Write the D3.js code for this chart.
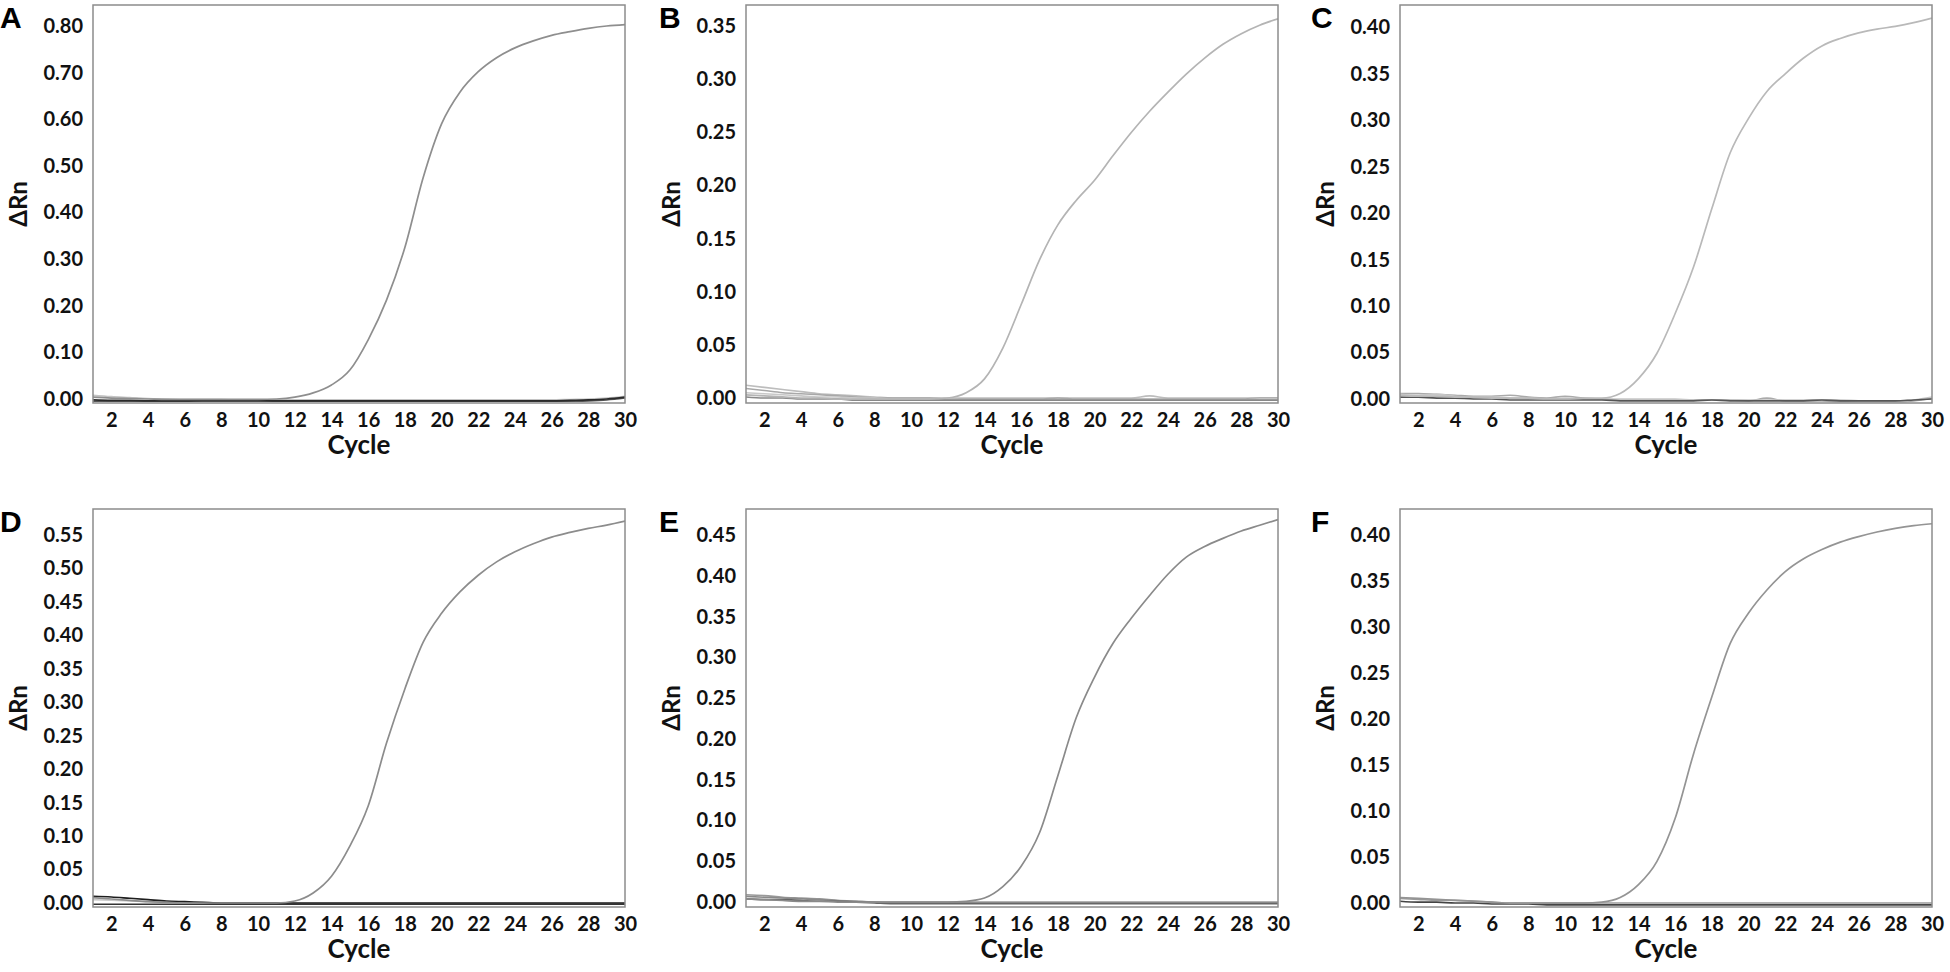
<!DOCTYPE html>
<html>
<head>
<meta charset="utf-8">
<script src="https://cdn.jsdelivr.net/npm/d3@7/dist/d3.min.js"></script>
<style>
  html, body { margin: 0; padding: 0; background: #fff; }
  svg { display: block; }
  .tick text { font-family: Lato, "Open Sans", sans-serif; font-weight: 700; font-size: 20px; fill: #111; }
  .lbl { font-family: Lato, "Open Sans", sans-serif; font-weight: 700; fill: #111; }
  .letter { font-family: "Liberation Sans", Arial, sans-serif; font-weight: 700; font-size: 30px; fill: #000; }
</style>
</head>
<body>
<svg id="chart" width="1950" height="972"></svg>
<script>
// ---------------- DATA ----------------
const cycles = [1,2,3,4,5,6,7,8,9,10,11,12,13,14,15,16,17,18,19,20,21,22,23,24,25,26,27,28,29,30];
const xTickLabels = [2,4,6,8,10,12,14,16,18,20,22,24,26,28,30];
const panelLetters = ["A","B","C","D","E","F"];

const yTicksA = [0.00,0.10,0.20,0.30,0.40,0.50,0.60,0.70,0.80];
const yTicksB = [0.00,0.05,0.10,0.15,0.20,0.25,0.30,0.35];
const yTicksC = [0.00,0.05,0.10,0.15,0.20,0.25,0.30,0.35,0.40];
const yTicksD = [0.00,0.05,0.10,0.15,0.20,0.25,0.30,0.35,0.40,0.45,0.50,0.55];
const yTicksE = [0.00,0.05,0.10,0.15,0.20,0.25,0.30,0.35,0.40,0.45];
const yTicksF = [0.00,0.05,0.10,0.15,0.20,0.25,0.30,0.35,0.40];

const yTopValues    = [0.845, 0.370, 0.424, 0.589, 0.482, 0.428];
const yBottomValues = [-0.0086, -0.0047, -0.0043, -0.0060, -0.0060, -0.0043];

// amplification curves (ΔRn per cycle)
const ampA = [0.004,0.002,0.001,0.000,-0.001,-0.001,-0.001,-0.001,-0.001,-0.001,0.000,0.004,0.013,0.030,0.062,0.127,0.212,0.325,0.475,0.590,0.658,0.702,0.732,0.753,0.768,0.780,0.788,0.795,0.800,0.803];
const ampB = [0.003,0.002,0.001,0.000,0.000,-0.001,-0.001,-0.001,-0.001,-0.001,-0.001,0.000,0.005,0.018,0.047,0.088,0.130,0.163,0.186,0.205,0.228,0.250,0.270,0.288,0.305,0.320,0.333,0.343,0.351,0.357];
const ampC = [0.004,0.003,0.003,0.002,0.002,0.001,0.001,0.001,0.000,0.000,0.001,0.001,0.006,0.022,0.049,0.092,0.142,0.205,0.265,0.302,0.331,0.350,0.367,0.380,0.388,0.394,0.398,0.401,0.405,0.410];
const ampD = [0.008,0.006,0.004,0.002,0.001,0.000,0.000,0.000,0.000,0.000,0.000,0.003,0.015,0.040,0.085,0.145,0.239,0.320,0.390,0.433,0.465,0.490,0.510,0.525,0.537,0.547,0.554,0.560,0.565,0.571];
const ampE = [0.004,0.003,0.002,0.001,0.001,0.000,0.000,0.000,0.000,0.000,0.000,0.000,0.001,0.005,0.019,0.044,0.085,0.155,0.226,0.276,0.317,0.348,0.376,0.402,0.423,0.436,0.446,0.455,0.462,0.469];
const ampF = [0.006,0.005,0.004,0.003,0.002,0.001,0.000,0.000,0.000,0.000,0.000,0.001,0.006,0.020,0.045,0.092,0.162,0.224,0.282,0.315,0.340,0.360,0.374,0.384,0.392,0.398,0.403,0.407,0.410,0.412];

// negative controls / baseline traces
const ntcA1 = [-0.002,-0.003,-0.003,-0.004,-0.004,-0.004,-0.003,-0.003,-0.003,-0.003,-0.004,-0.004,-0.004,-0.004,-0.004,-0.004,-0.004,-0.004,-0.004,-0.004,-0.004,-0.004,-0.004,-0.004,-0.004,-0.004,-0.003,-0.002,0.000,0.004];
const ntcA2 = [0.008,0.005,0.003,0.001,0.000,-0.001,-0.001,-0.001,-0.002,-0.002,-0.002,-0.002,-0.002,-0.002,-0.002,-0.002,-0.002,-0.002,-0.002,-0.002,-0.002,-0.002,-0.002,-0.002,-0.002,-0.002,-0.001,0.000,0.002,0.006];
const ntcA3 = [-0.005,-0.005,-0.005,-0.005,-0.005,-0.005,-0.005,-0.005,-0.005,-0.005,-0.005,-0.005,-0.005,-0.005,-0.005,-0.005,-0.005,-0.005,-0.005,-0.005,-0.005,-0.005,-0.005,-0.005,-0.005,-0.005,-0.005,-0.004,-0.002,0.002];

const ntcB1 = [0.012,0.010,0.008,0.006,0.004,0.003,0.002,0.001,0.000,0.000,0.000,0.000,0.000,0.000,0.000,0.000,0.000,0.000,0.000,0.000,0.000,0.000,0.002,0.000,0.000,0.000,0.000,0.000,0.000,0.000];
const ntcB2 = [0.009,0.007,0.005,0.004,0.003,0.002,0.001,0.000,0.000,0.000,0.000,-0.001,-0.001,-0.001,-0.001,-0.001,-0.001,0.000,-0.001,-0.001,-0.001,-0.001,-0.001,-0.001,-0.001,-0.001,-0.001,-0.001,0.000,0.000];
const ntcB3 = [0.005,0.004,0.003,0.002,0.001,0.001,0.000,0.000,-0.001,-0.001,-0.001,-0.001,-0.002,-0.002,-0.002,-0.002,-0.002,-0.002,-0.002,-0.002,-0.002,-0.002,-0.002,-0.002,-0.002,-0.002,-0.002,-0.002,-0.001,-0.001];
const ntcB4 = [0.001,0.000,0.000,-0.001,-0.001,-0.001,-0.002,-0.002,-0.002,-0.002,-0.002,-0.002,-0.002,-0.002,-0.002,-0.002,-0.002,-0.002,-0.002,-0.002,-0.002,-0.002,-0.002,-0.002,-0.002,-0.002,-0.002,-0.002,-0.002,-0.002];

const ntcC1 = [0.006,0.006,0.005,0.004,0.003,0.003,0.004,0.002,0.001,0.003,0.001,0.000,-0.001,-0.001,-0.001,-0.001,-0.001,-0.001,-0.001,-0.002,0.001,-0.002,-0.002,-0.002,-0.003,-0.003,-0.003,-0.003,-0.002,0.001];
const ntcC2 = [0.002,0.002,0.001,0.001,0.000,0.000,-0.001,-0.001,-0.001,-0.001,-0.001,-0.001,-0.002,-0.002,-0.002,-0.002,-0.002,-0.001,-0.002,-0.002,-0.002,-0.002,-0.002,-0.001,-0.002,-0.002,-0.002,-0.002,-0.001,0.000];
const ntcC3 = [0.005,0.004,0.005,0.003,0.002,0.002,0.001,0.001,0.000,0.001,0.000,0.000,0.000,0.000,0.000,0.000,-0.001,-0.001,-0.001,-0.001,-0.001,-0.001,-0.001,-0.001,-0.001,-0.002,-0.002,-0.002,-0.001,0.002];

const ntcD1 = [0.010,0.009,0.007,0.005,0.003,0.002,0.001,0.000,0.000,0.000,0.000,0.000,0.000,0.000,0.000,0.000,0.000,0.000,0.000,0.000,0.000,0.000,0.000,0.000,0.000,0.000,0.000,0.000,0.000,0.000];
const ntcD2 = [0.005,0.004,0.003,0.002,0.001,0.001,0.000,-0.001,-0.001,-0.001,-0.001,-0.001,-0.001,-0.001,-0.001,-0.001,-0.001,-0.001,-0.001,-0.001,-0.001,-0.001,-0.001,-0.001,-0.001,-0.001,-0.001,-0.001,-0.001,-0.001];
const ntcD3 = [-0.002,-0.002,-0.002,-0.002,-0.002,-0.002,-0.002,-0.002,-0.002,-0.002,-0.002,-0.002,-0.002,-0.002,-0.002,-0.002,-0.002,-0.002,-0.002,-0.002,-0.002,-0.002,-0.002,-0.002,-0.002,-0.002,-0.002,-0.002,-0.002,-0.002];

const ntcE1 = [0.009,0.008,0.006,0.005,0.004,0.002,0.001,0.000,0.000,0.000,0.000,0.000,0.000,0.000,0.000,0.000,0.000,0.000,0.000,0.000,0.000,0.000,0.000,0.000,0.000,0.000,0.000,0.000,0.000,0.000];
const ntcE2 = [0.007,0.006,0.005,0.004,0.003,0.002,0.001,0.000,-0.001,-0.001,-0.001,-0.001,-0.001,-0.001,-0.001,-0.001,-0.001,-0.001,-0.001,-0.001,-0.001,-0.001,-0.001,-0.001,-0.001,-0.001,-0.001,-0.001,-0.001,-0.001];
const ntcE3 = [0.004,0.003,0.003,0.002,0.001,0.001,0.000,-0.001,-0.002,-0.002,-0.002,-0.002,-0.002,-0.002,-0.002,-0.002,-0.002,-0.002,-0.002,-0.002,-0.002,-0.002,-0.002,-0.002,-0.002,-0.002,-0.002,-0.002,-0.002,-0.002];

const ntcF1 = [0.005,0.004,0.003,0.003,0.002,0.001,0.000,0.000,0.000,0.000,0.000,0.000,0.000,0.000,0.000,0.000,0.000,0.000,0.000,0.000,0.000,0.000,0.000,0.000,0.000,0.000,0.000,0.000,0.000,0.000];
const ntcF2 = [0.002,0.001,0.001,0.000,0.000,-0.001,-0.001,-0.001,-0.002,-0.002,-0.002,-0.002,-0.002,-0.002,-0.002,-0.002,-0.002,-0.002,-0.002,-0.002,-0.002,-0.002,-0.002,-0.002,-0.002,-0.002,-0.002,-0.002,-0.002,-0.002];

// ---------------- LAYOUT ----------------
const colLeft = [93, 746, 1400];
const plotW = 532;
const rowTop = [5, 509];
const plotH = 398;
const letterX = [0, 659, 1311];
const letterBaseline = [28, 532];

const yTickSets = [yTicksA, yTicksB, yTicksC, yTicksD, yTicksE, yTicksF];
const ampSets = [ampA, ampB, ampC, ampD, ampE, ampF];
const ntcSets = [
  [ntcA3, ntcA2, ntcA1],
  [ntcB1, ntcB2, ntcB3, ntcB4],
  [ntcC1, ntcC3, ntcC2],
  [ntcD2, ntcD3, ntcD1],
  [ntcE1, ntcE2, ntcE3],
  [ntcF1, ntcF2]
];
const ntcColors = [
  ["#555", "#c4c4c4", "#2a2a2a"],
  ["#bdbdbd", "#a8a8a8", "#c8c8c8", "#888"],
  ["#aaa", "#c6c6c6", "#555"],
  ["#c8c8c8", "#333", "#1e1e1e"],
  ["#999", "#8a8a8a", "#666"],
  ["#9a9a9a", "#444"]
];
const ampColors = ["#8e8e8e", "#b4b4b4", "#b9b9b9", "#8c8c8c", "#8a8a8a", "#949494"];

const svg = d3.select("#chart");

panelLetters.forEach((letter, i) => {
  const col = i % 3, row = Math.floor(i / 3);
  const left = colLeft[col], top = rowTop[row];
  const x = d3.scaleLinear().domain([1, 30]).range([left, left + plotW]);
  const y = d3.scaleLinear().domain([yBottomValues[i], yTopValues[i]]).range([top + plotH, top]);

  const g = svg.append("g");

  const clipId = "clip" + i;
  svg.append("clipPath").attr("id", clipId)
    .append("rect").attr("x", left).attr("y", top).attr("width", plotW).attr("height", plotH);

  // y axis labels
  const yAxis = d3.axisLeft(y).tickValues(yTickSets[i]).tickSize(0).tickPadding(10).tickFormat(d3.format(".2f"));
  const ya = g.append("g").attr("transform", `translate(${left},0)`).call(yAxis);
  ya.select(".domain").remove();

  // x axis labels
  const xAxis = d3.axisBottom(x).tickValues(xTickLabels).tickSize(0).tickFormat(d3.format("d"));
  const xa = g.append("g").attr("transform", `translate(0,${top + plotH})`).call(xAxis);
  xa.select(".domain").remove();
  xa.selectAll("text").attr("y", 17).attr("dy", "0.35em");

  // lines
  const line = d3.line().x((d, k) => x(cycles[k])).y(d => y(d)).curve(d3.curveMonotoneX);
  const lines = g.append("g").attr("clip-path", `url(#${clipId})`);
  ntcSets[i].forEach((s, k) => {
    lines.append("path").datum(s).attr("d", line)
      .attr("fill", "none").attr("stroke", ntcColors[i][k]).attr("stroke-width", 1.6);
  });
  lines.append("path").datum(ampSets[i]).attr("d", line)
    .attr("fill", "none").attr("stroke", ampColors[i]).attr("stroke-width", 1.7);

  // frame
  g.append("rect").attr("x", left).attr("y", top).attr("width", plotW).attr("height", plotH)
    .attr("fill", "none").attr("stroke", "#8c8c8c").attr("stroke-width", 1.5);

  // axis titles
  g.append("text").attr("class", "lbl")
    .attr("transform", `translate(${left - 66},${top + plotH / 2}) rotate(-90)`)
    .attr("text-anchor", "middle").style("font-size", "24px").text("ΔRn");
  g.append("text").attr("class", "lbl")
    .attr("x", left + plotW / 2).attr("y", top + plotH + 51)
    .attr("text-anchor", "middle").style("font-size", "26px").text("Cycle");

  // panel letter
  g.append("text").attr("class", "letter")
    .attr("x", letterX[col]).attr("y", letterBaseline[row]).text(letter);
});
</script>
</body>
</html>
